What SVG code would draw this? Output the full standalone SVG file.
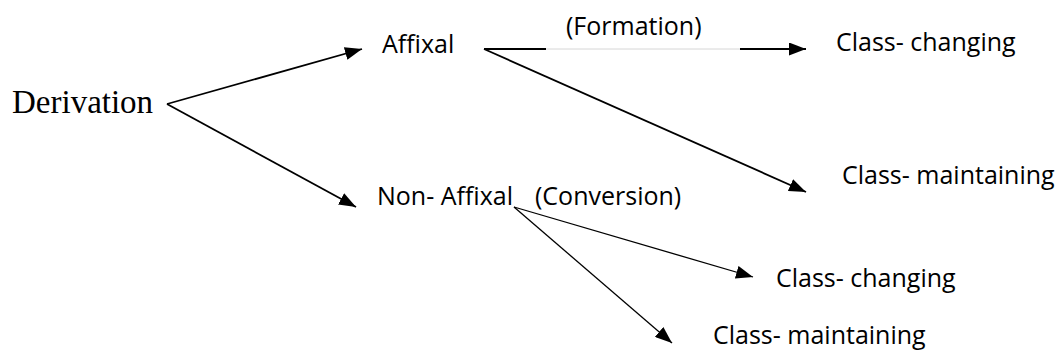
<svg xmlns="http://www.w3.org/2000/svg" width="1061" height="354" viewBox="0 0 1061 354">
<style>
.lbl{font-family:"Open Sans","Noto Sans",sans-serif;font-size:25px;fill:#000}
.ser{font-family:"Liberation Serif","Times New Roman",serif;font-size:33px;fill:#000}
.ln{stroke:#000;stroke-width:1.8;fill:none}
.thin{stroke:#000;stroke-width:1.3;fill:none}
</style>
<defs>
<marker id="ahL" viewBox="0 0 10 10" refX="10" refY="5" markerWidth="17" markerHeight="13" markerUnits="userSpaceOnUse" orient="auto" preserveAspectRatio="none">
<path d="M0,0 L10,5 L0,10 z" fill="#000"/>
</marker>
</defs>
<rect width="1061" height="354" fill="#fff"/>
<g id="n-derivation"><text class="ser" x="12" y="113">Derivation</text></g>
<g id="n-affixal"><text class="lbl" x="382" y="53">Affixal</text></g>
<g id="n-formation"><text class="lbl" x="566" y="35">(Formation)</text></g>
<g id="n-cc1"><text class="lbl" x="836" y="51">Class- changing</text></g>
<g id="n-cm1"><text class="lbl" x="842" y="184">Class- maintaining</text></g>
<g id="n-nonaffixal"><text class="lbl" x="377" y="205">Non- Affixal</text></g>
<g id="n-conversion"><text class="lbl" x="535" y="205">(Conversion)</text></g>
<g id="n-cc2"><text class="lbl" x="776" y="287">Class- changing</text></g>
<g id="n-cm2"><text class="lbl" x="713" y="344">Class- maintaining</text></g>
<g id="connectors">
<line class="ln" x1="167" y1="104" x2="362" y2="49" marker-end="url(#ahL)"/>
<line class="ln" x1="167" y1="104" x2="356" y2="207" marker-end="url(#ahL)"/>
<line class="ln" x1="484" y1="49" x2="546" y2="49"/>
<line x1="546" y1="49" x2="740" y2="49" stroke="#ccc" stroke-width="0.8"/>
<line class="ln" x1="740" y1="49" x2="806" y2="49" marker-end="url(#ahL)"/>
<line class="ln" x1="484" y1="49" x2="806" y2="192" marker-end="url(#ahL)"/>
<line class="thin" x1="514" y1="207" x2="753" y2="277" marker-end="url(#ahL)"/>
<line class="thin" x1="514" y1="207" x2="672" y2="343" marker-end="url(#ahL)"/>
</g>
</svg>
